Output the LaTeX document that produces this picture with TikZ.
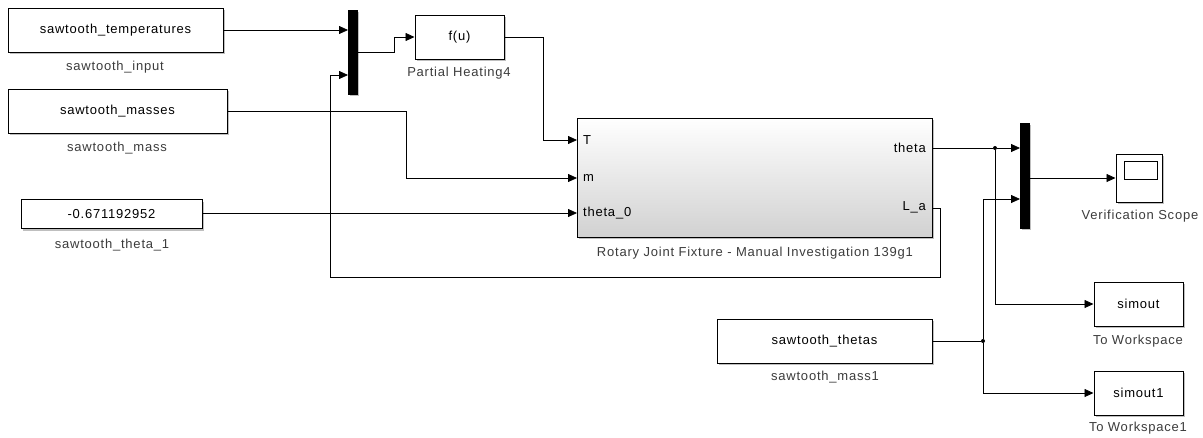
\documentclass[tikz,border=0pt]{standalone}
\usepackage{fontspec}
\setmainfont{Liberation Sans}[LetterSpace=6]
\usetikzlibrary{arrows.meta,shadows,calc}
\definecolor{lbl}{RGB}{60,60,60}
\newcommand{\fsz}{\fontsize{13}{15}\selectfont}
\begin{document}
\begin{tikzpicture}[x=1pt,y=-1pt,
  every node/.style={font=\fsz},
  blk/.style={draw=black, line width=1pt, fill=white, inner sep=0pt,
    drop shadow={shadow xshift=2pt,shadow yshift=-2pt,opacity=0.25,fill=black}},
  muxbar/.style={fill=black, draw=black, inner sep=0pt, minimum width=9pt,
    drop shadow={shadow xshift=2pt,shadow yshift=-2pt,opacity=0.25,fill=black}},
  lab/.style={text=lbl, inner sep=0pt},
  port/.style={inner sep=0pt, text=black},
  sig/.style={draw=black, line width=0.8pt, -{Triangle[length=9pt,width=8pt]}},
  wire/.style={draw=black, line width=0.8pt},
  dot/.style={circle, fill=black, inner sep=0pt, minimum size=4pt}
]
\useasboundingbox (0,0) rectangle (1203,437);
\fill[white] (0,0) rectangle (1203,437);

% blocks
\node[blk, minimum width=215pt, minimum height=44pt] (temp) at (115.5,30) {sawtooth\_temperatures};
\node[lab] (tempL) at (115,67) {sawtooth\_input};
\node[blk, minimum width=219pt, minimum height=44pt] (mass) at (117.5,111) {sawtooth\_masses};
\node[lab] (massL) at (117,148) {sawtooth\_mass};
\node[blk, minimum width=181pt, minimum height=29pt] (th1) at (111.5,214) {-0.671192952};
\node[lab] (th1L) at (112,245) {sawtooth\_theta\_1};

\node[muxbar, minimum height=84pt] (mux1) at (352.5,52) {};
\node[blk, minimum width=89pt, minimum height=44pt] (fu) at (459.5,37) {f(u)};
\node[lab] (fuL) at (459,73) {Partial Heating4};

\node[blk, minimum width=355pt, minimum height=119pt, top color=white, bottom color=black!18] (main) at (754.5,177.5) {};
\node[lab] (mainL) at (755,253) {Rotary Joint Fixture - Manual Investigation 139g1};
\coordinate (mT) at (577,140);
\coordinate (mM) at (577,178);
\coordinate (mTh) at (577,213);
\coordinate (oTh) at (932,148);
\coordinate (oLa) at (932,208);
\node[port, anchor=west] (pT) at (583,140) {T};
\node[port, anchor=west] (pM) at (583,178) {m};
\node[port, anchor=west] (pTh) at (583,213) {theta\_0};
\node[port, anchor=east] (qTh) at (926,148) {theta};
\node[port, anchor=east] (qLa) at (926,207) {L\_a};

\node[muxbar, minimum height=105pt] (mux2) at (1024.5,175.5) {};
\node[blk, minimum width=46pt, minimum height=48pt] (scope) at (1139,178) {};
\node[draw=black, line width=0.8pt, inner sep=0pt, minimum width=33pt, minimum height=18pt] (scopeS) at (1140.5,170) {};
\node[lab] (scopeL) at (1140,216) {Verification Scope};

\node[blk, minimum width=89pt, minimum height=44pt] (so) at (1138.5,304) {simout};
\node[lab] (soL) at (1138,341) {To Workspace};
\node[blk, minimum width=89pt, minimum height=44pt] (so1) at (1138.5,393) {simout1};
\node[lab] (so1L) at (1138,428) {To Workspace1};

\node[blk, minimum width=215pt, minimum height=44pt] (ths) at (824.5,341) {sawtooth\_thetas};
\node[lab] (thsL) at (825,377) {sawtooth\_mass1};

% port coordinates on muxes
\coordinate (m1a) at (348,30);
\coordinate (m1b) at (348,75);
\coordinate (m2a) at (1020,148);
\coordinate (m2b) at (1020,199);
\coordinate (m2o) at (1029,178);

% junctions
\node[dot] (j1) at (995,148) {};
\node[dot] (j2) at (983,341) {};

% connectors
\draw[sig] (temp.east) -- (m1a);
\draw[sig] (mux1.east) -- (394,52) -- (394,37) -- (fu.west);
\draw[sig] (fu.east) -- (543,37) -- (543,140) -- (mT);
\draw[sig] (mass.east) -- (406,111) -- (406,178) -- (mM);
\draw[sig] (th1.east |- mTh) -- (mTh);
\draw[sig] (oLa) -- (940,208) -- (940,277) -- (330,277) -- (330,75) -- (m1b);
\draw[wire] (oTh) -- (j1);
\draw[sig] (j1) -- (m2a);
\draw[sig] (j1) -- (995,304) -- (so.west);
\draw[wire] (ths.east) -- (j2);
\draw[sig] (j2) -- (983,199) -- (m2b);
\draw[sig] (j2) -- (983,393) -- (so1.west);
\draw[sig] (m2o) -- (scope.west);
\end{tikzpicture}
\end{document}
